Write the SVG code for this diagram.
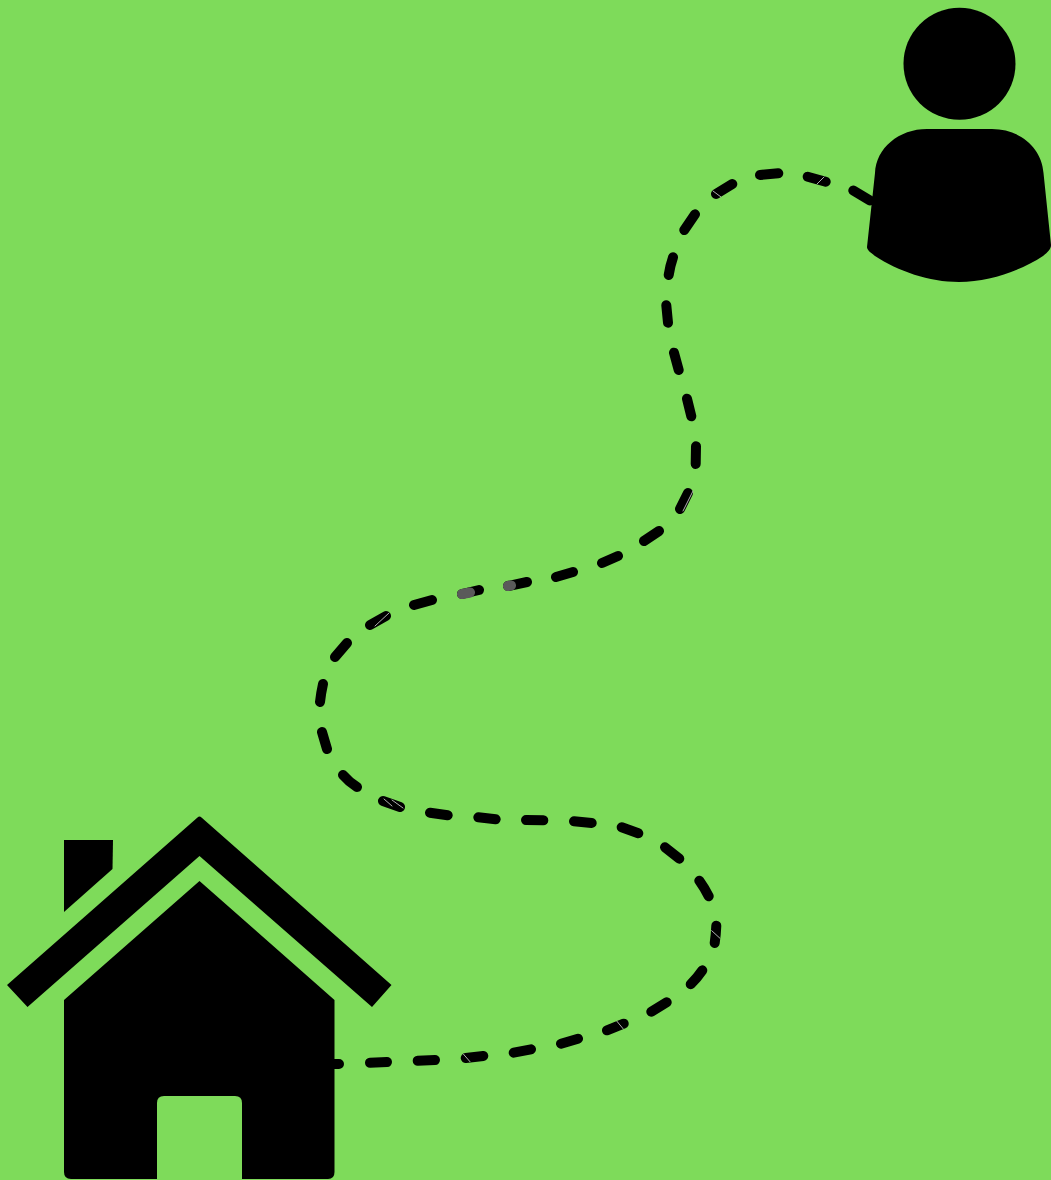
<svg xmlns="http://www.w3.org/2000/svg" width="1051" height="1180" viewBox="0 0 1051 1180">
<style>
.icon{fill:#000}
.bg{fill:#7edb5a}
.dash{fill:none;stroke:#000;stroke-width:10;stroke-linecap:round;stroke-linejoin:round}
.glint{fill:none;stroke:#b0b0b0;stroke-width:1;stroke-linecap:round}
.fade{fill:none;stroke:#5a5a5a;stroke-width:10;stroke-linecap:round}
</style>
<rect class="bg" width="1051" height="1180"/>
<g id="connectors">
<path class="dash" d="M339 1064L334 1064M370 1062.700L387 1062M417.700 1060.700L435 1060M465.700 1058L483.300 1056M513.700 1052.700L531 1049.300M561 1043.700L578 1038.700M607 1030.300L623.700 1023.700M651.300 1011.700L666.700 1002.300M690.700 984.300Q697 978 702.300 970.300M714.700 943Q716 934 716.300 925.700M708.700 896.300Q704.500 888 699.300 880.700M679.300 858.700L665 847.300M638.300 833.300L621.700 827.300M591.700 823L574 821.300M543.300 820.300L526 820M495.700 819.300L478.300 817.300M447.700 815.300L430 812.700M400 807L383 801M357 787Q349 782 343 775M327 749L322 732M320 702Q321 693 323 684M335 657L347 643M370 625L386 616M414 605L432 600M462 594L479 590M508 586L527 582M556 577L573 572M602 563L618 556M644 541L659 531M680 509L688 493M695.700 464L696 446.300M691.300 416.300L687 398.700M678.700 370L674 352.700M668 322.700L666.300 305.300M668.700 275Q670 266 673 257.300M684.300 230L695 214.300M716 194L732.300 184M760 175L778.300 173.300M807.700 176.700L825.700 181.700M853.300 190.500L870 200.500"/>
<path class="fade" d="M462 594L470 592.500M508 586L511 585.400"/>
<path class="glint" d="M683 511L693 491M375 626L389 613M384 799L392 806M392 800L403 808M463.300 1054L470 1061.700M616.700 1021L623.300 1029M711.700 930.700L720 938.300M713 191L721 197M817 184L824 177"/>
</g>
<g id="person">
<circle class="icon" cx="959.500" cy="63.800" r="56"/>
<path class="icon" d="M927 129H992C1020 129 1042 148 1043.500 173L1051 245C1051 249 1048 252 1043 256C1020 271 989 282 959 282C929 282 898 271 875 256C870 252 867 250 867 247L875 173C876 148 899 129 927 129Z"/>
</g>
<g id="house">
<path class="icon" d="M197.500 817.500Q199.500 815.500 201.500 817.500L391.500 985L372 1007L199.500 856L27.500 1007L7 985Z"/>
<path class="icon" d="M64 840H113L112.500 869L64 912Z"/>
<path class="icon" fill-rule="evenodd" d="M199.500 881L334.500 1000V1172Q334.500 1179 328 1179H242V1103Q242 1096 235 1096H164Q157 1096 157 1103V1179H71Q64 1179 64 1172V1000Z"/>
</g>
</svg>
